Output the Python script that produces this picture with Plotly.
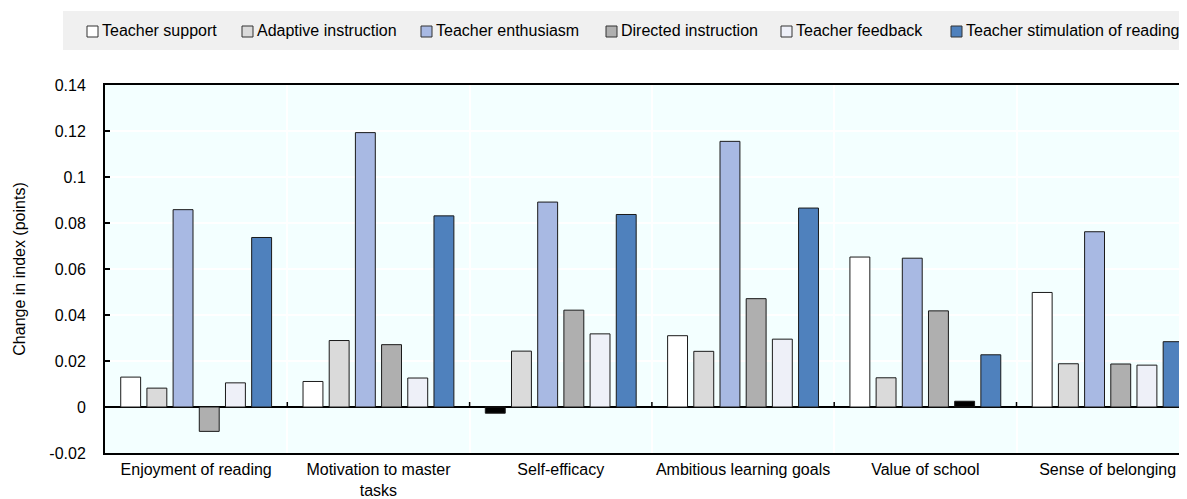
import plotly.graph_objects as go

# ---------------- data ----------------
categories = ["Enjoyment of reading", "Motivation to master<br>tasks", "Self-efficacy",
              "Ambitious learning goals", "Value of school", "Sense of belonging"]
series_names = ["Teacher support", "Adaptive instruction", "Teacher enthusiasm",
                "Directed instruction", "Teacher feedback", "Teacher stimulation of reading"]
teacher_support = [0.0130, 0.0111, -0.0027, 0.0310, 0.0652, 0.0498]
adaptive_instruction = [0.0082, 0.0289, 0.0243, 0.0242, 0.0127, 0.0188]
teacher_enthusiasm = [0.0858, 0.1193, 0.0891, 0.1155, 0.0647, 0.0762]
directed_instruction = [-0.0106, 0.0271, 0.0421, 0.0471, 0.0418, 0.0187]
teacher_feedback = [0.0105, 0.0126, 0.0318, 0.0295, 0.0025, 0.0182]
teacher_stimulation = [0.0737, 0.0831, 0.0837, 0.0865, 0.0227, 0.0284]
# bars shown in black in the original
highlighted = {"Teacher support": ["Self-efficacy"], "Teacher feedback": ["Value of school"]}
y_tick_values = [-0.02, 0, 0.02, 0.04, 0.06, 0.08, 0.1, 0.12, 0.14]
y_tick_labels = ["-0.02", "0", "0.02", "0.04", "0.06", "0.08", "0.1", "0.12", "0.14"]
y_title = "Change in index (points)"

series_values = [teacher_support, adaptive_instruction, teacher_enthusiasm,
                 directed_instruction, teacher_feedback, teacher_stimulation]

# ---------------- style ----------------
colors = ["#ffffff", "#dadada", "#a8b9e3", "#afafaf", "#eef0f8", "#4f81bd"]
FONT = "Arial, Liberation Sans, sans-serif"
OFF = 8  # page body margin of the html page
W, H = 1187 - OFF, 499 - OFF
ML, MR, MT = 105 - OFF, 0, 85 - OFF
PH = 368
MB = H - MT - PH
PW = W - ML - MR
CAT_W = 182.3  # pixel width of one category


def px_x(p):
    """page pixel x -> paper coordinate"""
    return (p - OFF - ML) / PW


def px_y(p):
    """page pixel y -> paper coordinate"""
    return 1 - (p - OFF - MT) / PH


fig = go.Figure()
for name, vals, col in zip(series_names, series_values, colors):
    hl = highlighted.get(name, [])
    fills = ["#000000" if c in hl else col for c in categories]
    fig.add_trace(go.Bar(
        name=name, x=categories, y=vals,
        marker=dict(color=fills, line=dict(color="#1a1a1a", width=1)),
        showlegend=False,
    ))

x_end = -0.5 + PW / CAT_W

shapes = []
# small tick marks on the zero line at category boundaries
for i in range(len(categories) - 1):
    shapes.append(dict(type="line", xref="x", yref="y", x0=i + 0.5, x1=i + 0.5,
                       ysizemode="pixel", yanchor=0, y0=0, y1=5,
                       line=dict(color="black", width=1.5)))

# legend band
shapes.append(dict(type="rect", xref="paper", yref="paper", x0=px_x(63), x1=1.0,
                   y0=px_y(50), y1=px_y(11), fillcolor="#f0f0f0", line=dict(width=0),
                   layer="below"))
legend_marker_x = [87, 242, 421, 606, 781, 951]
annotations = []
for name, col, mx in zip(series_names, colors, legend_marker_x):
    shapes.append(dict(type="rect", xref="paper", yref="paper", x0=px_x(mx), x1=px_x(mx + 11),
                       y0=px_y(37), y1=px_y(26), fillcolor=col,
                       line=dict(color="#333333", width=1)))
    annotations.append(dict(xref="paper", yref="paper", x=px_x(mx + 14), y=px_y(31),
                            xanchor="left", yanchor="middle", text=name, showarrow=False,
                            borderpad=0,
                            font=dict(family=FONT, size=16, color="black")))

fig.update_layout(
    width=W, height=H,
    margin=dict(l=ML, r=MR, t=MT, b=MB, autoexpand=False),
    paper_bgcolor="white", plot_bgcolor="#f3ffff",
    barmode="group", bargap=0.138, bargroupgap=0.24,
    font=dict(family=FONT, size=16, color="black"),
    shapes=shapes, annotations=annotations,
    showlegend=False,
)
fig.update_xaxes(
    type="category", range=[-0.5, x_end], tickson="boundaries",
    showgrid=True, gridcolor="white", gridwidth=1.5,
    ticks="", showline=True, linecolor="black", linewidth=1.5, mirror=True,
    tickfont=dict(family=FONT, size=16, color="black"), automargin=False,
    tickangle=0, ticklabelstandoff=1,
)
fig.update_yaxes(
    range=[-0.02, 0.14], tickvals=y_tick_values, ticktext=y_tick_labels,
    showgrid=True, gridcolor="white", gridwidth=1.5,
    zeroline=True, zerolinecolor="black", zerolinewidth=1.5,
    showline=True, linecolor="black", linewidth=2,
    ticks="inside", ticklen=5, tickcolor="black", tickwidth=1.5,
    tickfont=dict(family=FONT, size=16, color="black"), automargin=False,
    ticklabelstandoff=14,
    title=dict(text=y_title, font=dict(family=FONT, size=16, color="black"), standoff=20),
)

fig.write_html("out.html")
